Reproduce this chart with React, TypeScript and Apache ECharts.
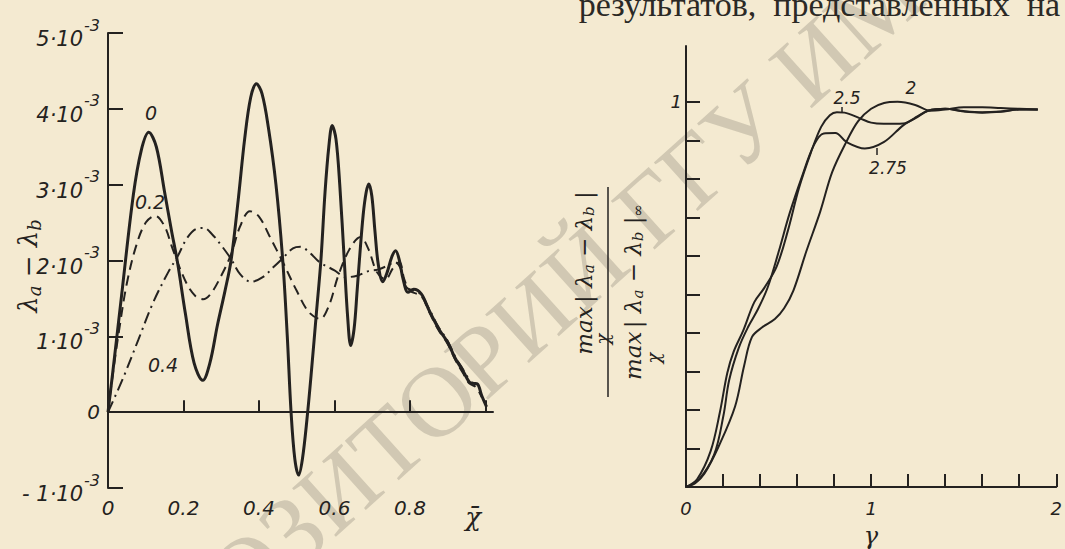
import React, { useEffect, useRef } from "react";
import * as echarts from "echarts";

// ---------- Left chart data (y in units of 1e-3) ----------
const leftXLabels = [0, 0.2, 0.4, 0.6, 0.8];
const leftXTicks = [0.2, 0.4, 0.6, 0.8, 1.0];
const leftYTicks = [-1, 0, 1, 2, 3, 4, 5];

const curve0: number[][] = [
  [0, 0], [0.012, 0.5], [0.036, 1.54], [0.067, 2.86], [0.088, 3.45], [0.108, 3.69], [0.128, 3.5],
  [0.15, 2.9], [0.168, 2.4], [0.184, 1.98], [0.205, 1.3], [0.228, 0.65], [0.251, 0.42], [0.27, 0.65],
  [0.29, 1.15], [0.31, 1.6], [0.326, 2.0], [0.345, 2.8], [0.362, 3.6], [0.378, 4.15], [0.393, 4.33],
  [0.408, 4.2], [0.425, 3.75], [0.445, 3.0], [0.463, 2.0], [0.475, 1.0], [0.485, 0.0], [0.495, -0.62],
  [0.505, -0.83], [0.515, -0.62], [0.527, -0.1], [0.54, 0.6], [0.552, 1.3], [0.564, 2.0], [0.575, 2.9],
  [0.585, 3.5], [0.594, 3.78], [0.604, 3.6], [0.614, 3.0], [0.626, 2.0], [0.635, 1.25], [0.643, 0.88],
  [0.652, 1.1], [0.66, 1.6], [0.666, 2.0], [0.676, 2.6], [0.684, 2.9], [0.691, 3.01], [0.699, 2.85],
  [0.707, 2.4], [0.716, 1.95], [0.728, 1.72], [0.74, 1.85], [0.752, 2.05], [0.762, 2.13], [0.772, 2.0],
  [0.782, 1.75], [0.795, 1.58], [0.81, 1.62], [0.83, 1.56], [0.85, 1.35], [0.876, 1.1], [0.9, 0.92],
  [0.921, 0.7], [0.94, 0.55], [0.957, 0.4], [0.968, 0.38], [0.979, 0.37], [0.99, 0.22], [1.003, 0.07],
];

const curve02: number[][] = [
  [0, 0], [0.01, 0.4], [0.03, 1.1], [0.05, 1.7], [0.075, 2.2], [0.1, 2.5], [0.125, 2.59], [0.15, 2.45],
  [0.168, 2.2], [0.184, 1.98], [0.21, 1.68], [0.232, 1.53], [0.252, 1.49], [0.272, 1.56], [0.3, 1.8],
  [0.326, 2.08], [0.35, 2.45], [0.376, 2.65], [0.4, 2.58], [0.43, 2.3], [0.463, 1.98], [0.5, 1.6],
  [0.532, 1.32], [0.562, 1.23], [0.585, 1.4], [0.61, 1.8], [0.64, 2.15], [0.669, 2.31], [0.69, 2.15],
  [0.712, 1.85], [0.735, 1.75], [0.755, 1.9], [0.772, 1.98], [0.785, 1.75], [0.8, 1.6], [0.83, 1.53],
  [0.85, 1.33], [0.876, 1.08], [0.9, 0.9], [0.921, 0.68], [0.94, 0.52], [0.957, 0.38], [0.975, 0.33],
  [0.99, 0.2],
];

const curve04: number[][] = [
  [0, 0], [0.04, 0.45], [0.08, 0.95], [0.12, 1.45], [0.16, 1.85], [0.184, 2.05], [0.21, 2.3],
  [0.235, 2.42], [0.254, 2.43], [0.275, 2.35], [0.3, 2.2], [0.326, 2.02], [0.35, 1.82], [0.379, 1.72],
  [0.41, 1.78], [0.44, 1.92], [0.463, 2.03], [0.49, 2.16], [0.51, 2.18], [0.535, 2.1], [0.56, 1.98],
  [0.6, 1.87], [0.63, 1.78], [0.66, 1.8], [0.69, 1.86], [0.715, 1.88], [0.74, 1.93], [0.76, 1.98],
  [0.775, 1.9], [0.79, 1.65], [0.81, 1.6], [0.83, 1.55], [0.85, 1.37], [0.876, 1.12], [0.9, 0.94],
  [0.921, 0.72], [0.94, 0.57], [0.957, 0.42],
];

// ---------- Right chart data ----------
const rightXLabels = [0, 1, 2];
const rightYTicks = [0.1, 0.2, 0.3, 0.4, 0.5, 0.6, 0.7, 0.8, 0.9, 1.0];
const rightYLabels = [1];

const curve2: number[][] = [
  [0, 0], [0.05, 0.01], [0.1, 0.035], [0.178, 0.107], [0.265, 0.209], [0.314, 0.315], [0.356, 0.389],
  [0.41, 0.414], [0.48, 0.436], [0.53, 0.464], [0.58, 0.51], [0.65, 0.612], [0.725, 0.715], [0.79, 0.818],
  [0.866, 0.896], [0.93, 0.95], [1.0, 0.982], [1.07, 0.997], [1.143, 1.0], [1.238, 0.992], [1.318, 0.977],
  [1.4, 0.98], [1.5, 0.986], [1.6, 0.986], [1.7, 0.984], [1.8, 0.982], [1.9, 0.98],
];

const curve25: number[][] = [
  [0, 0], [0.06, 0.02], [0.133, 0.093], [0.183, 0.194], [0.223, 0.296], [0.257, 0.351], [0.309, 0.406],
  [0.369, 0.48], [0.423, 0.517], [0.49, 0.573], [0.55, 0.665], [0.61, 0.776], [0.675, 0.869], [0.73, 0.935],
  [0.777, 0.965], [0.815, 0.973], [0.856, 0.972], [0.94, 0.957], [1.0, 0.946], [1.068, 0.943],
  [1.173, 0.944], [1.24, 0.958], [1.307, 0.977], [1.4, 0.982], [1.5, 0.975], [1.6, 0.972], [1.7, 0.974],
  [1.8, 0.98], [1.9, 0.98],
];

const curve275: number[][] = [
  [0, 0], [0.07, 0.02], [0.152, 0.084], [0.202, 0.185], [0.233, 0.277], [0.284, 0.36], [0.336, 0.416],
  [0.389, 0.462], [0.441, 0.518], [0.5, 0.61], [0.56, 0.711], [0.625, 0.804], [0.69, 0.887], [0.744, 0.918],
  [0.807, 0.919], [0.866, 0.896], [0.966, 0.879], [1.07, 0.896], [1.173, 0.939], [1.25, 0.962],
  [1.307, 0.977], [1.4, 0.982], [1.5, 0.976], [1.6, 0.973], [1.7, 0.975], [1.8, 0.98], [1.9, 0.98],
];

const pageText = "результатов,  представленных  на";
const watermarkText = "РЕПОЗИТОРИЙ ГГУ ИМ";

const INK = "#242220";
const PAPER = "#f4ead1";
const NUM_FONT = "DejaVu Sans";
const MATH_FONT = "DejaVu Serif";

export default function App() {
  const ref = useRef<HTMLDivElement>(null);

  useEffect(() => {
    document.body.style.margin = "0";
    document.body.style.background = PAPER;
    if (!ref.current) return;
    const chart = echarts.init(ref.current, undefined, { renderer: "svg" });

    const axisLine = { show: true, lineStyle: { color: INK, width: 2 } };
    const numStyle = { color: INK, fontFamily: NUM_FONT, fontStyle: "italic" as const };

    const lineSeries = (data: number[][], idx: number, width: number, type: any) => ({
      type: "line",
      xAxisIndex: idx,
      yAxisIndex: idx,
      data,
      smooth: 0.35,
      showSymbol: false,
      symbol: "none",
      lineStyle: { color: INK, width, type },
      z: 3,
    });

    const txt = (x: number, y: number, text: string, fontSize: number) => ({
      type: "text", x, y, z: 5,
      style: { text, fontSize, fontFamily: NUM_FONT, fontStyle: "italic", fill: INK, align: "center", verticalAlign: "middle" },
    });

    const option: any = {
      animation: false,
      backgroundColor: PAPER,
      grid: [
        { left: 108, top: 33, width: 385, height: 455 },
        { left: 686, top: 46, width: 378, height: 441 },
      ],
      xAxis: [
        {
          type: "value", gridIndex: 0, min: 0, max: 1.02, interval: 0.2,
          axisLine, splitLine: { show: false },
          axisTick: { show: true, inside: true, length: 12, customValues: leftXTicks, lineStyle: { color: INK, width: 2 } },
          axisLabel: { customValues: leftXLabels, margin: 10, fontSize: 20, ...numStyle,
            formatter: (v: number) => (v === 0 ? "0" : v.toFixed(1)) },
        },
        {
          type: "value", gridIndex: 1, min: 0, max: 2, interval: 0.2,
          axisLine, splitLine: { show: false },
          axisTick: { show: true, inside: true, length: 13, lineStyle: { color: INK, width: 2 } },
          axisLabel: { customValues: rightXLabels, margin: 12, fontSize: 18, ...numStyle,
            formatter: (v: number) => String(Math.round(v)) },
        },
      ],
      yAxis: [
        {
          type: "value", gridIndex: 0, min: -1, max: 5, interval: 1,
          axisLine, splitLine: { show: false },
          axisTick: { show: true, inside: true, length: 15, customValues: leftYTicks, lineStyle: { color: INK, width: 2 } },
          axisLabel: {
            margin: 8, ...numStyle,
            formatter: (v: number) =>
              v === 0 ? "{z|0}" : `{m|${v < 0 ? "- " : ""}${Math.abs(v)}·10}{s|-3}`,
            rich: {
              z: { fontSize: 20, fontFamily: NUM_FONT, fontStyle: "italic", color: INK },
              m: { fontSize: 21, fontFamily: NUM_FONT, fontStyle: "italic", color: INK, padding: [12, 0, 0, 0] },
              s: { fontSize: 16, fontFamily: NUM_FONT, fontStyle: "italic", color: INK, padding: [0, 0, 16, 1] },
            },
          },
        },
        {
          type: "value", gridIndex: 1, min: 0, max: 1.145, interval: 0.1,
          axisLine, splitLine: { show: false },
          axisTick: { show: true, inside: true, length: 14, customValues: rightYTicks, lineStyle: { color: INK, width: 2 } },
          axisLabel: { customValues: rightYLabels, margin: 4, fontSize: 18, ...numStyle,
            formatter: (v: number) => String(Math.round(v)) },
        },
      ],
      series: [
        lineSeries(curve0, 0, 3, "solid"),
        lineSeries(curve02, 0, 2, [10, 6]),
        lineSeries(curve04, 0, 2, [12, 5, 2, 5]),
        lineSeries(curve2, 1, 2, "solid"),
        lineSeries(curve25, 1, 2, "solid"),
        lineSeries(curve275, 1, 2, "solid"),
      ],
      graphic: [
        // watermark
        {
          type: "text", x: 80, y: 722, rotation: (42 * Math.PI) / 180, z: -10, silent: true,
          style: { text: watermarkText, fontSize: 100, fontFamily: "Liberation Serif", fill: "rgba(110,104,92,0.26)", align: "left", verticalAlign: "middle" },
        },
        // page text cut by the top edge
        {
          type: "text", x: 1060, y: 4, z: 5,
          style: { text: pageText, fontSize: 34, fontFamily: "Liberation Serif", fill: "#2b2925", align: "right", verticalAlign: "middle" },
        },
        // curve labels, left chart
        txt(151, 113, "0", 19),
        txt(150, 202, "0.2", 19),
        txt(163, 365, "0.4", 19),
        // x-axis name left chart
        { type: "text", x: 473, y: 517, z: 5, style: { text: "χ\u0304", fontSize: 26, fontFamily: MATH_FONT, fontStyle: "italic", fill: INK, align: "center", verticalAlign: "middle" } },
        // y-axis name left chart
        {
          type: "text", x: 28, y: 266, rotation: Math.PI / 2, z: 5,
          style: {
            text: "{l|λ}{s|a}{l| − λ}{s|b}", align: "center", verticalAlign: "middle", fill: INK,
            rich: {
              l: { fontSize: 26, fontFamily: MATH_FONT, fontStyle: "italic", fill: INK },
              s: { fontSize: 18, fontFamily: MATH_FONT, fontStyle: "italic", fill: INK, padding: [12, 0, 0, 0] },
            },
          },
        },
        // right chart curve labels
        txt(847, 98, "2.5", 17),
        txt(911, 88, "2", 17),
        txt(888, 168, "2.75", 17),
        { type: "line", z: 5, shape: { x1: 842, y1: 107, x2: 842, y2: 113 }, style: { stroke: INK, lineWidth: 1.5 } },
        { type: "line", z: 5, shape: { x1: 877, y1: 148, x2: 877, y2: 155 }, style: { stroke: INK, lineWidth: 1.5 } },
        // right x name
        { type: "text", x: 871, y: 536, z: 5, style: { text: "γ", fontSize: 24, fontFamily: MATH_FONT, fontStyle: "italic", fill: INK, align: "center", verticalAlign: "middle" } },
        // right y name (fraction), rotated
        {
          type: "group", x: 608, y: 292, rotation: Math.PI / 2, z: 5,
          children: [
            { type: "line", shape: { x1: -105, y1: 0, x2: 105, y2: 0 }, style: { stroke: INK, lineWidth: 1.5 } },
            {
              type: "text", x: 19, y: -24,
              style: {
                text: "{t|max} {t||}{t| λ}{s|a}{t| − λ}{s|b}{t| |}", align: "center", verticalAlign: "middle", fill: INK,
                rich: {
                  t: { fontSize: 23, fontFamily: MATH_FONT, fontStyle: "italic", fill: INK },
                  s: { fontSize: 15, fontFamily: MATH_FONT, fontStyle: "italic", fill: INK, padding: [10, 0, 0, 0] },
                },
              },
            },
            { type: "text", x: -47, y: -6, style: { text: "χ", fontSize: 18, fontFamily: MATH_FONT, fontStyle: "italic", fill: INK, align: "center", verticalAlign: "middle" } },
            {
              type: "text", x: 0, y: 25,
              style: {
                text: "{t|max} {t||}{t| λ}{s|a}{t| − λ}{s|b}{t| |}{s|∞}", align: "center", verticalAlign: "middle", fill: INK,
                rich: {
                  t: { fontSize: 23, fontFamily: MATH_FONT, fontStyle: "italic", fill: INK },
                  s: { fontSize: 15, fontFamily: MATH_FONT, fontStyle: "italic", fill: INK, padding: [10, 0, 0, 0] },
                },
              },
            },
            { type: "text", x: -66, y: 45, style: { text: "χ", fontSize: 18, fontFamily: MATH_FONT, fontStyle: "italic", fill: INK, align: "center", verticalAlign: "middle" } },
          ],
        },
      ],
    };

    chart.setOption(option);
    return () => chart.dispose();
  }, []);

  return <div ref={ref} style={{ width: 1065, height: 549 }} />;
}
